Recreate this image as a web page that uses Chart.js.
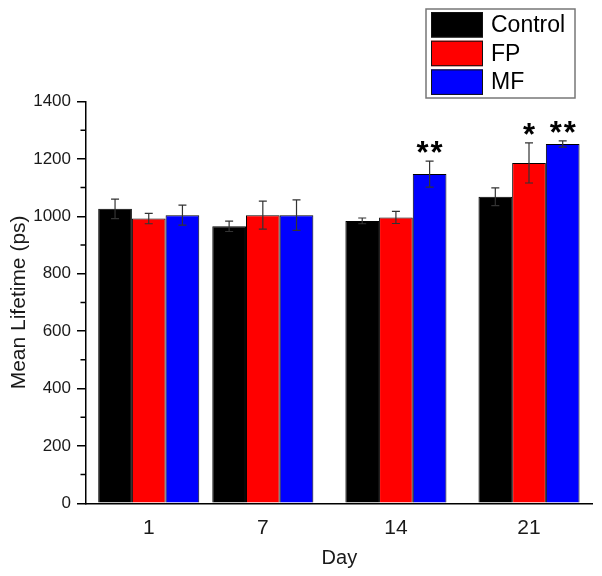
<!DOCTYPE html>
<html>
<head>
<meta charset="utf-8">
<script src="https://cdn.jsdelivr.net/npm/chart.js@4/dist/chart.umd.min.js"></script>
<style>
  html, body { margin: 0; padding: 0; background: #fff; }
  #wrap { width: 602px; height: 576px; }
</style>
</head>
<body>
<div id="wrap"><canvas id="lifetimeChart"></canvas></div>
<script>
// data
const days = [1, 7, 14, 21];
const seriesNames = ["Control", "FP", "MF"];
const controlMean = [1026, 965, 984, 1068];
const controlErr = [34, 18, 10, 31];
const fpMean = [992, 1004, 996, 1186];
const fpErr = [18, 49, 21, 70];
const mfMean = [1004, 1004, 1147, 1252];
const mfErr = [35, 53, 45, 11];
const fpStars = ["", "", "", "*"];
const mfStars = ["", "", "**", "**"];
const yTicks = [0, 200, 400, 600, 800, 1000, 1200, 1400];

const FONT = "Arial, 'Liberation Sans', Helvetica, sans-serif";

function points(means) {
    return days.map((d, i) => ({ x: d, y: means[i] }));
}

// error bars + significance stars
const errorBars = {
    id: "errorBars",
    afterDatasetsDraw(chart) {
        const ctx = chart.ctx;
        const yScale = chart.scales.y;
        chart.data.datasets.forEach((ds, di) => {
            const meta = chart.getDatasetMeta(di);
            meta.data.forEach((bar, i) => {
                const m = ds.data[i].y, e = ds.errors[i];
                const yTop = yScale.getPixelForValue(m + e);
                const yBot = yScale.getPixelForValue(m - e);
                ctx.save();
                ctx.strokeStyle = "#333";
                ctx.lineWidth = 1.2;
                ctx.beginPath();
                ctx.moveTo(bar.x, yTop); ctx.lineTo(bar.x, yBot);
                ctx.moveTo(bar.x - 4, yTop); ctx.lineTo(bar.x + 4, yTop);
                ctx.moveTo(bar.x - 4, yBot); ctx.lineTo(bar.x + 4, yBot);
                ctx.stroke();
                const s = ds.stars ? ds.stars[i] : "";
                if (s) {
                    ctx.fillStyle = "#000";
                    ctx.font = "bold 31px " + FONT;
                    ctx.textAlign = "center";
                    ctx.textBaseline = "alphabetic";
                    for (let k = 0; k < s.length; k++) {
                        const cx = bar.x + (k - (s.length - 1) / 2) * 14;
                        ctx.fillText("*", cx, yTop + 2);
                    }
                }
                ctx.restore();
            });
        });
    }
};

// minor ticks on the y axis and the boxed legend
const extras = {
    id: "extras",
    afterDraw(chart) {
        const ctx = chart.ctx;
        const yScale = chart.scales.y;
        const left = chart.chartArea.left;
        ctx.save();
        ctx.strokeStyle = "#000";
        ctx.lineWidth = 1.5;
        ctx.beginPath();
        for (let v = 100; v < 1400; v += 200) {
            const py = yScale.getPixelForValue(v);
            ctx.moveTo(left - 5.5, py); ctx.lineTo(left, py);
        }
        ctx.stroke();

        // legend
        ctx.strokeStyle = "#777";
        ctx.lineWidth = 1.5;
        ctx.strokeRect(426, 9, 149, 89);
        chart.data.datasets.forEach((ds, i) => {
            const y0 = 12 + i * 28.7;
            ctx.fillStyle = ds.backgroundColor;
            ctx.fillRect(431, y0, 52, 25.5);
            ctx.strokeStyle = "#111";
            ctx.lineWidth = 1;
            ctx.strokeRect(431.5, y0 + 0.5, 51, 24.5);
            ctx.fillStyle = "#000";
            ctx.font = "23px " + FONT;
            ctx.textAlign = "left";
            ctx.textBaseline = "middle";
            ctx.fillText(ds.label, 491, y0 + 13.5);
        });
        ctx.restore();
    }
};

const ctx = document.getElementById("lifetimeChart").getContext("2d");
new Chart(ctx, {
    type: "bar",
    data: {
        datasets: [
            { label: seriesNames[0], data: points(controlMean), errors: controlErr,
              backgroundColor: "#000000", borderColor: "#000", borderWidth: 1 },
            { label: seriesNames[1], data: points(fpMean), errors: fpErr, stars: fpStars,
              backgroundColor: "#ff0000", borderColor: "#000", borderWidth: 1 },
            { label: seriesNames[2], data: points(mfMean), errors: mfErr, stars: mfStars,
              backgroundColor: "#0000ff", borderColor: "#000", borderWidth: 1 }
        ]
    },
    options: {
        responsive: true,
        maintainAspectRatio: false,
        animation: false,
        categoryPercentage: 0.886,
        barPercentage: 1.0,
        layout: { padding: { top: 101.5, right: 9.3, left: 0, bottom: 0 } },
        plugins: { legend: { display: false }, tooltip: { enabled: false } },
        scales: {
            x: {
                type: "linear",
                offset: false,
                min: -2.3,
                max: 24.35,
                afterBuildTicks: (scale) => { scale.ticks = days.map(d => ({ value: d })); },
                afterFit: (scale) => { scale.height = 72.7; },
                grid: { display: false, drawTicks: false },
                border: { display: true, color: "#000", width: 1.5 },
                ticks: { color: "#1a1a1a", font: { family: FONT, size: 21 }, padding: 12,
                         maxRotation: 0, callback: (v) => String(v) },
                title: { display: true, text: "Day", color: "#1a1a1a",
                         font: { family: FONT, size: 20 }, padding: { top: 0, bottom: 6 } }
            },
            y: {
                min: 0,
                max: 1400,
                afterBuildTicks: (scale) => { scale.ticks = yTicks.map(v => ({ value: v })); },
                afterFit: (scale) => { scale.width = 86; },
                grid: { display: true, drawOnChartArea: false, drawTicks: true, tickLength: 9,
                        color: "#000", lineWidth: 1.5 },
                border: { display: true, color: "#000", width: 1.5 },
                ticks: { color: "#1a1a1a", font: { family: FONT, size: 17 }, padding: 6,
                         callback: (v) => String(v) },
                title: { display: true, text: "Mean Lifetime (ps)", color: "#1a1a1a",
                         font: { family: FONT, size: 21 }, padding: { top: 7, bottom: 0 } }
            }
        }
    },
    plugins: [errorBars, extras]
});
</script>
</body>
</html>
